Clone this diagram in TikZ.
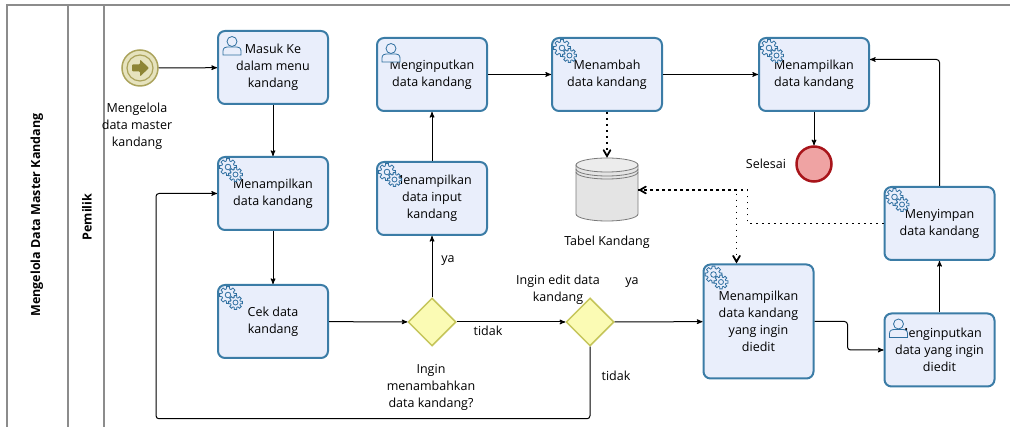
\documentclass[tikz,border=0pt]{standalone}
\usepackage{fontspec}
\setsansfont{Open Sans}
\usetikzlibrary{arrows,shapes.geometric}

\definecolor{taskfill}{HTML}{E9EEFB}
\definecolor{taskline}{HTML}{3B7CA6}
\definecolor{iconline}{HTML}{2F6FA0}
\definecolor{gatefill}{HTML}{FBFBB4}
\definecolor{gateline}{HTML}{C5C55A}
\definecolor{endfill}{HTML}{EFA3A3}
\definecolor{endline}{HTML}{A8141A}
\definecolor{startfill}{HTML}{E6E3BE}
\definecolor{startline}{HTML}{ABA35C}
\definecolor{startarrow}{HTML}{8D8535}
\definecolor{dbfill}{HTML}{E4E4E4}
\definecolor{dbline}{HTML}{7A7A7A}
\definecolor{poolline}{HTML}{8C8C8C}

\tikzset{
  gear/.pic={
    \begin{scope}[shift={(-3,-3)}]
      \draw[iconline, line width=0.8pt, fill=taskfill] (-10:8.5)
        \foreach \a in {0,45,...,315}{ -- (\a-10:8.5) -- (\a+10:8.5) -- (\a+16:6.2) -- (\a+29:6.2) } -- cycle;
      \draw[iconline, line width=0.8pt] (0,0) circle[radius=2.8pt];
    \end{scope}
    \begin{scope}[shift={(4.5,4.5)}]
      \draw[iconline, line width=0.8pt, fill=taskfill] (-10:7)
        \foreach \a in {0,45,...,315}{ -- (\a-10:7) -- (\a+10:7) -- (\a+16:5) -- (\a+29:5) } -- cycle;
      \draw[iconline, line width=0.8pt] (0,0) circle[radius=2.5pt];
    \end{scope}
  },
  usr/.pic={
    \draw[iconline, line width=0.8pt, fill=taskfill] (-9,10) -- (-9,6)
      .. controls (-9,2.5) and (-6.5,2) .. (-3,2) -- (3,2)
      .. controls (6.5,2) and (9,2.5) .. (9,6) -- (9,10) -- cycle;
    \draw[iconline, line width=0.8pt, fill=taskfill] (0,-3.5) circle[radius=5pt];
  }
}

\begin{document}
\begin{tikzpicture}
  [
    x=1pt, y=-1pt,
    >=stealth',
    flow/.style={->, black, line width=1pt},
    assoc/.style={-angle 60, black, line width=1.8pt, dash pattern=on 1.8pt off 4.2pt},
    pool/.style={poolline, line width=1.5pt},
    pooltext/.style={font=\sffamily\bfseries\fontsize{12.5}{14}\selectfont},
    lbl/.style={align=center, font=\sffamily\fontsize{12.5}{17}\selectfont},
    task/.style={rectangle, rounded corners=7pt, draw=taskline, fill=taskfill,
      line width=2pt, minimum width=110pt, minimum height=73pt, inner sep=2pt,
      align=center, font=\sffamily\fontsize{12.5}{17}\selectfont},
    gate/.style={diamond, draw=gateline, fill=gatefill, line width=1.5pt,
      minimum size=48pt, inner sep=0pt},
    startev/.style={circle, draw=startline, fill=startfill, line width=1.5pt, minimum size=36pt},
    endev/.style={circle, draw=endline, fill=endfill, line width=2.5pt, minimum size=35pt}
  ]

  \useasboundingbox (0,0) rectangle (1010,427);

  % pool and lane
  \draw[pool] (7,430) -- (7,5) -- (1012,5);
  \draw[pool] (68,5) -- (68,430);
  \draw[pool] (104,5) -- (104,430);
  \node[pooltext, rotate=90] (p) at (37,215) {Mengelola Data Master Kandang};
  \node[pooltext, rotate=90] (q) at (87,217) {Pemilik};

  % events and tasks
  \node[startev] (1) at (140,68) {};
  \draw[startline, line width=1.2pt] (1.center) circle[radius=13pt];
  \fill[startarrow, rounded corners=1pt] ([shift={(-8,-3.5)}]1.center) -- ++(8,0) -- ++(0,-5)
    -- ++(9,8.5) -- ++(-9,8.5) -- ++(0,-5) -- ++(-8,0) -- cycle;
  \node[task] (2) at (273,67.5) {Masuk Ke\\dalam menu\\kandang};
  \node[task] (3) at (273,193.5) {Menampilkan\\data kandang};
  \node[task] (4) at (273,321.5) {Cek data\\kandang};
  \node[gate] (5) at (432,322) {};
  \node[task] (6) at (432,198.5) {Menampilkan\\data input\\kandang};
  \node[task] (7) at (432,74.5) {Menginputkan\\data kandang};
  \node[task] (8) at (607,74.5) {Menambah\\data kandang};
  \node[task] (9) at (814,74.5) {Menampilkan\\data kandang};
  \node[endev] (10) at (814,164) {};
  \node[gate] (11) at (590,322) {};
  \node[task, minimum height=114pt] (12) at (758.5,321.5) {Menampilkan\\data kandang\\yang ingin\\diedit};
  \node[task] (13) at (939.5,350) {Menginputkan\\data yang ingin\\diedit};
  \node[task] (14) at (939.5,223.5) {Menyimpan\\data kandang};

  \foreach \n in {3,4,6,8,9,12,14}
    \pic at ([shift={(14,14)}]\n.north west) {gear};
  \foreach \n in {2,7,13}
    \pic at ([shift={(15,15)}]\n.north west) {usr};

  % data store
  \node[minimum width=62pt, minimum height=64pt, inner sep=0pt] (db) at (607,190) {};
  \filldraw[draw=dbline, fill=dbfill, line width=0.8pt] (576,165) -- (576,214)
    arc[start angle=180, end angle=360, x radius=31pt, y radius=7pt] -- (638,165) -- cycle;
  \filldraw[draw=dbline, fill=dbfill!70!white, line width=0.8pt] (607,165) ellipse[x radius=31pt, y radius=7pt];
  \draw[dbline, line width=0.8pt] (576,169) arc[start angle=180, end angle=360, x radius=31pt, y radius=7pt];
  \draw[dbline, line width=0.8pt] (576,172) arc[start angle=180, end angle=360, x radius=31pt, y radius=7pt];

  % labels
  \node[lbl] (l1) at (137,126) {Mengelola\\data master\\kandang};
  \node[lbl] (l2) at (766,164) {Selesai};
  \node[lbl] (l3) at (607,242) {Tabel Kandang};
  \node[lbl] (l4) at (448,261) {ya};
  \node[lbl] (l5) at (488,331) {tidak};
  \node[lbl] (l6) at (431,387) {Ingin\\menambahkan\\data kandang?};
  \node[lbl] (l7) at (558,290) {Ingin edit data\\kandang};
  \node[lbl] (l8) at (632,283) {ya};
  \node[lbl] (l9) at (616,376) {tidak};

  % sequence flows
  \draw[flow] (1) -- (2);
  \draw[flow] (2) -- (3);
  \draw[flow] (3) -- (4);
  \draw[flow] (4) -- (5);
  \draw[flow] (5) -- (6);
  \draw[flow] (6) -- (7);
  \draw[flow] (7) -- (8);
  \draw[flow] (8) -- (9);
  \draw[flow] (9) -- (10);
  \draw[flow] (5) -- (11);
  \draw[flow] (11) -- (12);
  \draw[flow, rounded corners=3pt] (11.south) -- ++(0,72) -| ([xshift=-61pt]3.west) -- (3.west);
  \draw[flow, rounded corners=3pt] (12.east) -- ++(33,0) |- (13.west);
  \draw[flow] (13) -- (14);
  \draw[flow, rounded corners=3pt] (14.north) |- ([yshift=15pt]9.east);

  % associations
  \draw[assoc] (8) -- (db);
  \draw[assoc] (14.west) -- ++(-136,0) |- (db.east);
  \draw[assoc] (db.east) -| ([xshift=-22pt]12.north);
\end{tikzpicture}
\end{document}
